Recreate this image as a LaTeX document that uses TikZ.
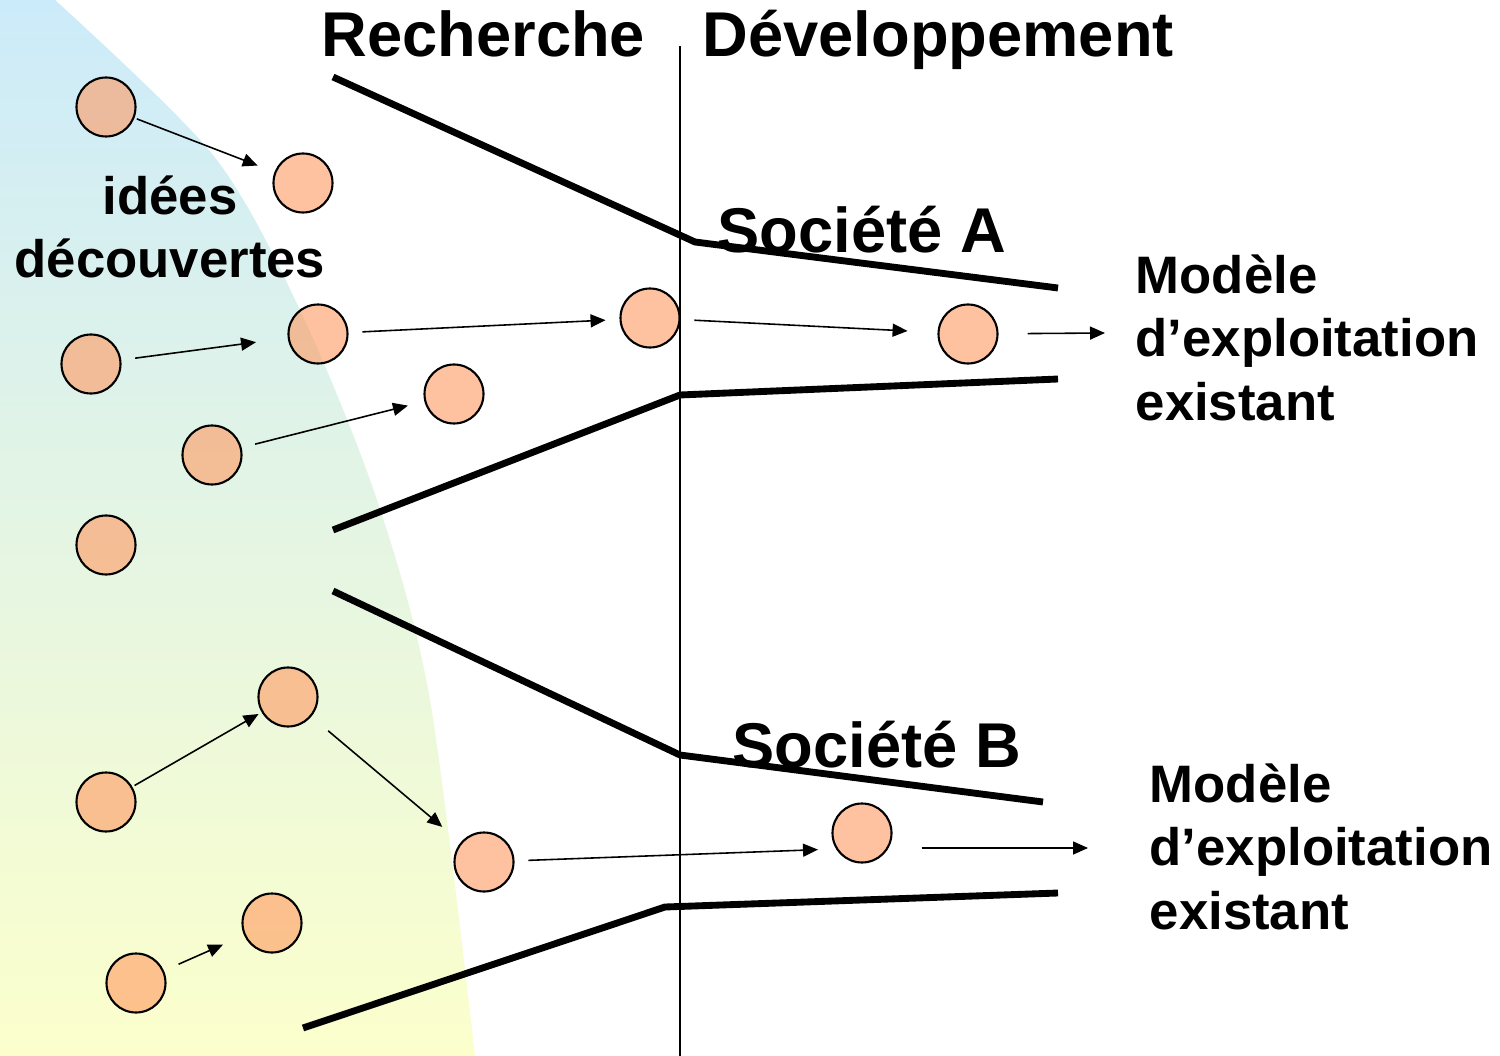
\documentclass[tikz,border=0pt]{standalone}
\usepackage{fontspec}
\setmainfont{Liberation Sans}
\usepackage{tikz}
\usetikzlibrary{arrows.meta}

\definecolor{ideafill}{RGB}{255,153,97}
\definecolor{skyblue}{RGB}{204,235,250}
\definecolor{paleyellow}{RGB}{252,255,204}

\begin{document}
\begin{tikzpicture}[x=0.1mm, y=-0.1mm, >={Triangle[length=1.5mm,width=1.3mm]},
    idea/.style={circle, draw, line width=0.6pt, fill=ideafill, fill opacity=0.6,
        minimum size=5.9mm, inner sep=0pt, outer sep=0pt},
    flow/.style={->, line width=0.45pt},
    funnel/.style={line width=1.95pt},
    headtext/.style={font=\fontsize{18}{21.6}\selectfont\bfseries, inner sep=0pt, anchor=base west},
    blocktext/.style={font=\fontsize{15}{18}\selectfont\bfseries, inner sep=0pt, align=left, anchor=base west}]
    \useasboundingbox (0,0) rectangle (1500,1056);

    % Pool of ideas
    \shade[top color=skyblue, bottom color=paleyellow]
        (0,0) -- plot[smooth] coordinates {(55,0) (213,155) (300,310) (377,500) (430,700) (475,1056)}
        -- (0,1056) -- cycle;

    % Border research / development
    \draw[line width=0.4pt] (680,46) -- (680,1056);

    % Funnels
    \draw[funnel] (333,77) -- (695,242) -- (1058,288);
    \draw[funnel] (333,530) -- (680,395) -- (1058,379);
    \draw[funnel] (333,591) -- (680,755) -- (1043,802);
    \draw[funnel] (303,1028) -- (665,907) -- (1058,893);

    % Ideas
    \foreach \n/\x/\y in {n1/106/107, n2/303/183, n3/91/364, n4/318/334, n5/650/318,
        n6/968/334, n7/454/394, n8/212/455, n9/106/545, n10/288/697, n11/106/802,
        n12/484/862, n13/862/833, n14/272/923, n15/136/983}
        \node[idea] (\n) at (\x,\y) {};

    \coordinate (outA) at (1105,333);
    \coordinate (outB) at (1088,848);

    % Paths of the ideas
    \foreach \s/\t/\a/\b in {n1/n2/0.35/1.9, n3/n4/1.5/3.3, n4/n5/1.5/1.5, n5/n6/1.5/3.1,
        n8/n7/1.5/1.8, n11/n10/0.35/0.45, n10/n12/2.3/2.5, n15/n14/1.7/2.4}
        \draw[flow, shorten <=\a mm, shorten >=\b mm] (\s) -- (\t);
    \draw[flow, shorten <=1.5mm, shorten >=4.4mm] (n12) -- ([yshift=-1.5mm]n13.center);
    \draw[flow, shorten <=3mm] (n6) -- (outA);
    \draw[flow, shorten <=3mm] (n13.east |- outB) -- (outB);

    % Labels
    \node[headtext] (rech) at (321,57) {Recherche};
    \node[headtext] (dev) at (702,57) {Développement};
    \node[headtext] (socA) at (717,253) {Société A};
    \node[headtext] (socB) at (732,767) {Société B};
    \node[blocktext] (modA) at (1135,420) {Modèle\\d’exploitation\\existant};
    \node[blocktext] (modB) at (1149,929) {Modèle\\d’exploitation\\existant};
    \node[blocktext, align=center, anchor=base] (idees) at (170,278) {idées\\découvertes};
\end{tikzpicture}
\end{document}
